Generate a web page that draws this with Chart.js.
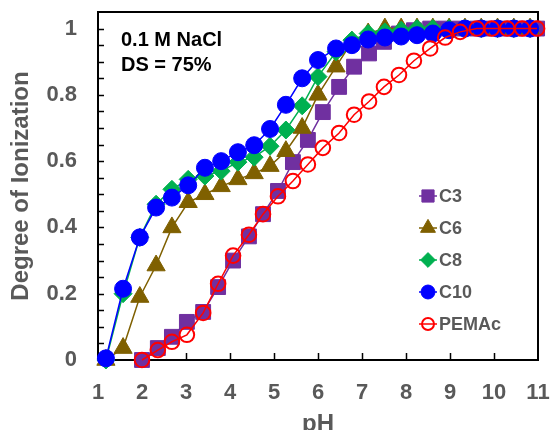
<!DOCTYPE html>
<html>
<head>
<meta charset="utf-8">
<script src="https://cdn.jsdelivr.net/npm/chart.js@4.4.1/dist/chart.umd.min.js"></script>
<style>
  html, body { margin: 0; padding: 0; background: #ffffff; }
  #wrap { width: 553px; height: 430px; }
</style>
</head>
<body>
<div id="wrap"><canvas id="c" width="553" height="430"></canvas></div>
<script>
// pH values for the alkyl-grafted copolymers (C6, C8, C10)
const pHAlkyl = [1.18, 1.57, 1.95, 2.32, 2.68, 3.05, 3.43, 3.80, 4.18, 4.55, 4.91, 5.27, 5.64, 6.00,
                 6.41, 6.77, 7.14, 7.52, 7.89, 8.25, 8.61, 8.98, 9.34, 9.71, 10.08, 10.45, 10.82];
// pH values for C3 and the parent PEMAc
const pHRef = [2.00, 2.36, 2.68, 3.02, 3.39, 3.73, 4.07, 4.43, 4.75, 5.09, 5.43, 5.77, 6.11, 6.48,
               6.82, 7.16, 7.50, 7.84, 8.18, 8.55, 8.89, 9.23, 9.61, 9.95, 10.30, 10.64, 10.98];

// degree of ionization
const c3 = [0.0, 0.036, 0.07, 0.115, 0.145, 0.22, 0.30, 0.373, 0.44, 0.51, 0.597, 0.664, 0.748, 0.824,
            0.885, 0.925, 0.96, 0.985, 0.995, 1.0, 1.0, 1.0, 1.0, 1.0, 1.0, 1.0, 1.0];
const c6 = [0.0, 0.036, 0.19, 0.285, 0.40, 0.476, 0.50, 0.524, 0.545, 0.563, 0.585, 0.63, 0.70, 0.80,
            0.885, 0.96, 0.985, 1.0, 1.0, 1.0, 1.0, 1.0, 1.0, 1.0, 1.0, 1.0, 1.0];
const c8 = [0.0, 0.20, 0.37, 0.47, 0.515, 0.545, 0.555, 0.57, 0.597, 0.612, 0.645, 0.694, 0.767, 0.855,
            0.93, 0.965, 0.985, 0.99, 0.995, 1.0, 1.0, 1.0, 1.0, 1.0, 1.0, 1.0, 1.0];
const c10 = [0.005, 0.215, 0.37, 0.46, 0.49, 0.527, 0.58, 0.60, 0.627, 0.648, 0.697, 0.77, 0.85, 0.905,
             0.94, 0.95, 0.967, 0.973, 0.976, 0.98, 0.985, 0.995, 1.0, 1.0, 1.0, 1.0, 1.0];
const pemac = [0.0, 0.03, 0.055, 0.076, 0.142, 0.23, 0.315, 0.378, 0.44, 0.494, 0.54, 0.59, 0.64, 0.685,
               0.74, 0.78, 0.824, 0.86, 0.903, 0.94, 0.973, 0.99, 1.0, 1.0, 1.0, 1.0, 1.0];

const seriesNames = ['C3', 'C6', 'C8', 'C10', 'PEMAc'];
const xTickLabels = ['1', '2', '3', '4', '5', '6', '7', '8', '9', '10', '11'];
const yTickLabels = ['0', '0.2', '0.4', '0.6', '0.8', '1'];
const noteLines = ['0.1 M NaCl', 'DS = 75%'];

const FONT = "'Liberation Sans', Arial, Helvetica, sans-serif";
const GREY = '#595959';

function pts(xs, ys) { return xs.map((x, i) => ({ x: x, y: ys[i] })); }

function series(label, xs, ys, color, style, radius, order, fill) {
  return {
    label: label,
    data: pts(xs, ys),
    borderColor: color,
    backgroundColor: fill || color,
    borderWidth: 1.5,
    pointStyle: style,
    pointRadius: radius,
    pointHoverRadius: radius,
    pointBorderWidth: fill ? 2 : 1,
    pointBorderColor: color,
    pointBackgroundColor: fill || color,
    tension: 0,
    clip: false,
    order: order
  };
}

const datasets = [
  series(seriesNames[0], pHRef, c3, '#7030A0', 'rect', 10.5, 4),
  series(seriesNames[1], pHAlkyl, c6, '#7F6000', 'triangle', 10.5, 3),
  series(seriesNames[2], pHAlkyl, c8, '#00B050', 'rectRot', 9, 2),
  series(seriesNames[3], pHAlkyl, c10, '#0000FF', 'circle', 8.5, 1),
  series(seriesNames[4], pHRef, pemac, '#FF0000', 'circle', 7.3, 0, 'rgba(255,255,255,0)')
];

// frame around the plot and inward tick marks
const framePlugin = {
  id: 'frame',
  beforeDatasetsDraw(chart) {
    const { ctx, chartArea: a, scales } = chart;
    ctx.save();
    ctx.strokeStyle = '#000000';
    ctx.lineWidth = 1.5;
    ctx.beginPath();
    for (let k = 1; k <= 20; k++) {
      const y = Math.round(scales.y.getPixelForValue(k * 0.05)) + 0.5;
      ctx.moveTo(a.left, y);
      ctx.lineTo(a.left + 6, y);
    }
    for (let k = 2; k <= 10; k++) {
      const x = Math.round(scales.x.getPixelForValue(k)) + 0.5;
      ctx.moveTo(x, a.bottom);
      ctx.lineTo(x, a.bottom - 7);
    }
    ctx.stroke();
    ctx.lineWidth = 2;
    ctx.strokeRect(a.left, a.top, a.right - a.left, a.bottom - a.top);
    ctx.restore();
  }
};

// condition note and legend inside the plot
const notesPlugin = {
  id: 'notes',
  afterDraw(chart) {
    const ctx = chart.ctx;
    ctx.save();
    ctx.fillStyle = '#000000';
    ctx.font = 'bold 20px ' + FONT;
    ctx.textAlign = 'left';
    ctx.textBaseline = 'alphabetic';
    ctx.fillText(noteLines[0], 121, 46);
    ctx.fillText(noteLines[1], 121, 70.5);

    const x0 = 419, x1 = 437, tx = 439;
    const rowY = [196, 228, 260, 292, 324];
    ctx.font = 'bold 18px ' + FONT;
    ctx.textBaseline = 'middle';
    chart.data.datasets.forEach((ds, i) => {
      const y = rowY[i];
      ctx.strokeStyle = ds.borderColor;
      ctx.lineWidth = 1.5;
      ctx.beginPath();
      ctx.moveTo(x0, y);
      ctx.lineTo(x1, y);
      ctx.stroke();
      ctx.fillStyle = ds.pointBackgroundColor;
      ctx.strokeStyle = ds.pointBorderColor;
      ctx.lineWidth = ds.pointBorderWidth;
      Chart.helpers.drawPoint(ctx, {
        pointStyle: ds.pointStyle,
        radius: ds.pointRadius * 0.82,
        rotation: 0,
        borderWidth: ds.pointBorderWidth
      }, (x0 + x1) / 2, y);
      ctx.fillStyle = GREY;
      ctx.fillText(ds.label, tx, y + 1);
    });
    ctx.restore();
  }
};

new Chart(document.getElementById('c'), {
  type: 'line',
  data: { datasets: datasets },
  options: {
    responsive: false,
    devicePixelRatio: 1,
    animation: false,
    layout: { padding: { left: 0, right: 15, top: 12, bottom: 0 } },
    plugins: { legend: { display: false }, tooltip: { enabled: false } },
    scales: {
      x: {
        type: 'linear',
        min: 1,
        max: 11,
        afterFit(scale) { scale.height = 70; },
        border: { display: false },
        grid: { drawOnChartArea: false, drawTicks: true, tickLength: 20, tickColor: 'rgba(0,0,0,0)' },
        ticks: {
          stepSize: 1,
          padding: 0,
          autoSkip: false,
          maxRotation: 0,
          color: GREY,
          font: { family: FONT, size: 22, weight: 'bold', lineHeight: 1.2 },
          callback: (v) => xTickLabels[Math.round(v) - 1]
        },
        title: {
          display: true,
          text: 'pH',
          color: GREY,
          font: { family: FONT, size: 24, weight: 'bold', lineHeight: 1.2 },
          padding: { top: 0, bottom: -9 }
        }
      },
      y: {
        type: 'linear',
        min: 0,
        max: 1.05,
        afterFit(scale) { scale.width = 98; },
        border: { display: false },
        grid: { drawOnChartArea: false, drawTicks: true, tickLength: 21, tickColor: 'rgba(0,0,0,0)' },
        ticks: {
          stepSize: 0.2,
          includeBounds: false,
          padding: 0,
          autoSkip: false,
          color: GREY,
          font: { family: FONT, size: 22, weight: 'bold', lineHeight: 1 },
          callback: (v) => {
            const i = Math.round(v / 0.2);
            return Math.abs(v - i * 0.2) < 1e-6 ? yTickLabels[i] : '';
          }
        },
        title: {
          display: true,
          text: 'Degree of Ionization',
          color: GREY,
          font: { family: FONT, size: 24, weight: 'bold', lineHeight: 1.2 },
          padding: { top: 7, bottom: 0 }
        }
      }
    }
  },
  plugins: [framePlugin, notesPlugin]
});
</script>
</body>
</html>
